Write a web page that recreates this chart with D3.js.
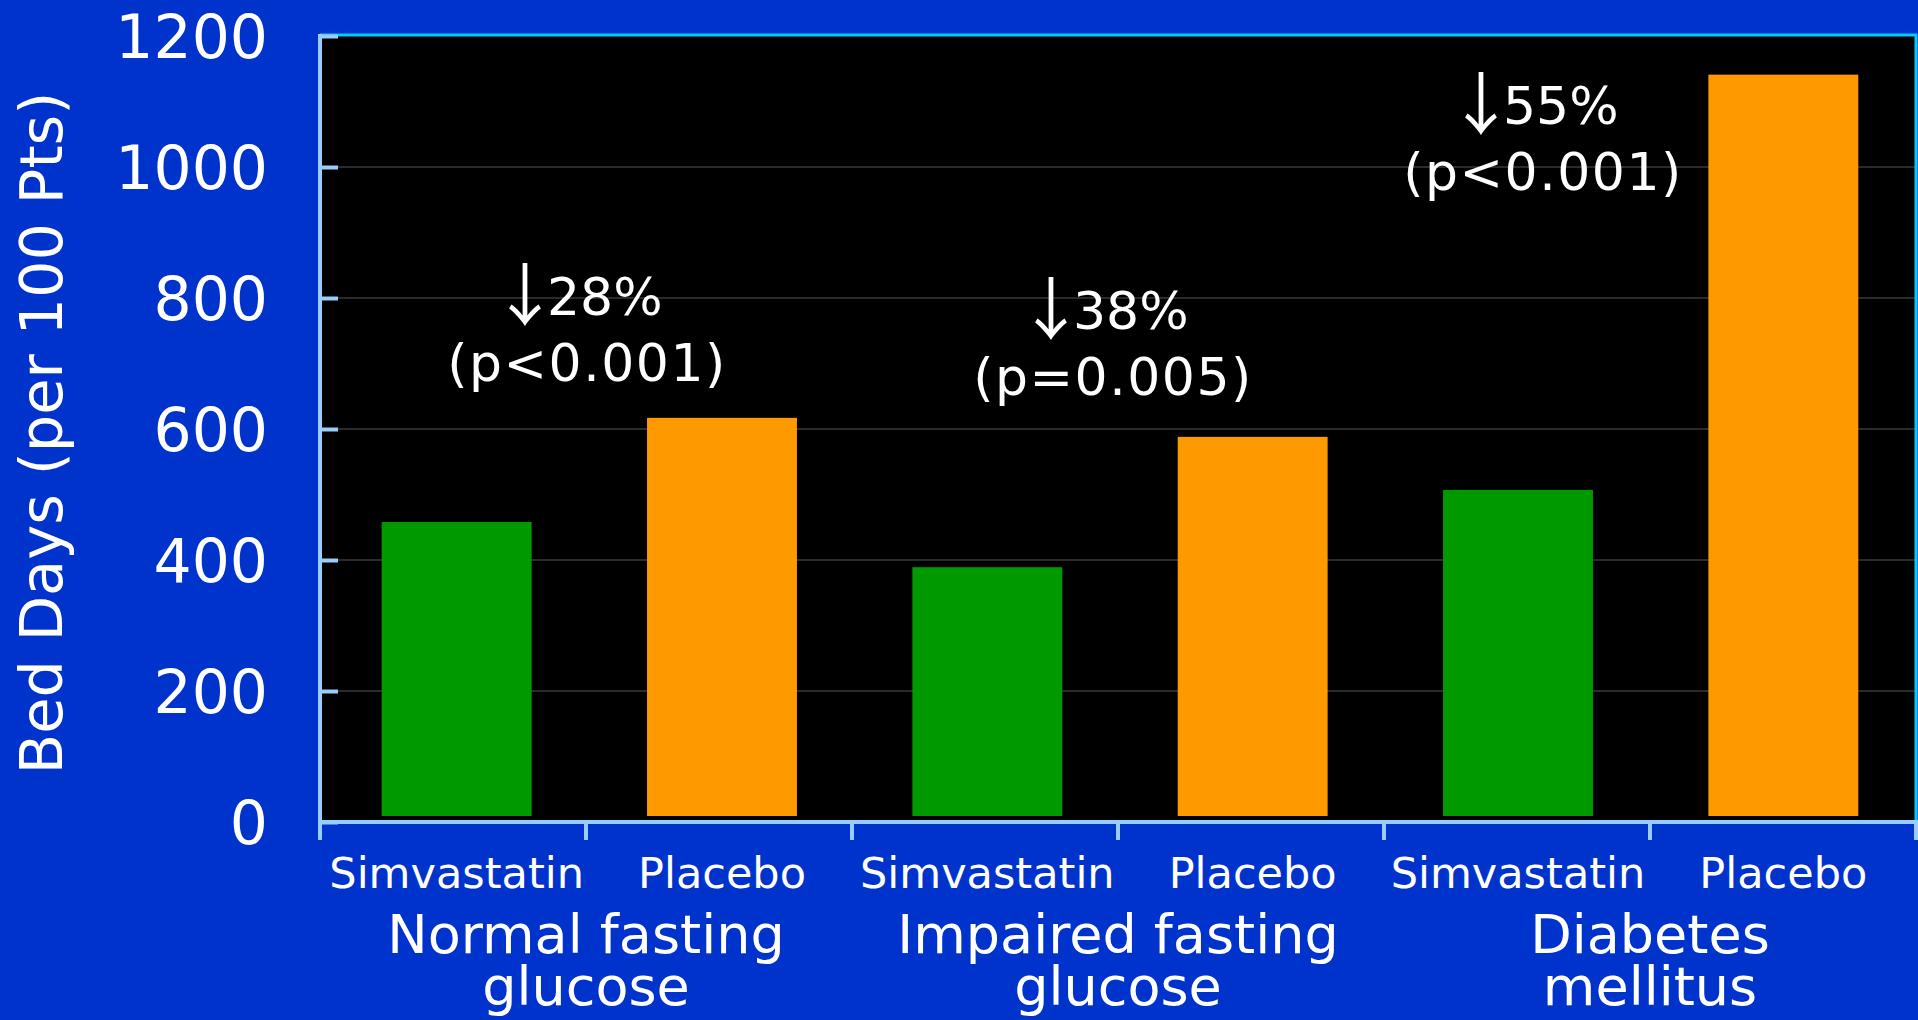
<!DOCTYPE html>
<html>
<head>
<meta charset="utf-8">
<script src="https://cdn.jsdelivr.net/npm/d3@7"></script>
<style>
  html, body { margin: 0; padding: 0; background: #0033CC; overflow: hidden; }
  svg { display: block; }
  text { font-family: "DejaVu Sans", Verdana, sans-serif; fill: #ffffff; }
</style>
</head>
<body>
<svg id="chart" width="1918" height="1020"></svg>
<script>
// ---- data ----
const groups = ["Normal fasting glucose", "Impaired fasting glucose", "Diabetes mellitus"];
const groupLines = [["Normal fasting", "glucose"], ["Impaired fasting", "glucose"], ["Diabetes", "mellitus"]];
const treatments = ["Simvastatin", "Placebo"];
const simvastatin = [458, 389, 507];
const placebo = [617, 588, 1141];
const reductions = ["28%", "38%", "55%"];
const pValues = ["(p<0.001)", "(p=0.005)", "(p<0.001)"];
const yTicks = [0, 200, 400, 600, 800, 1000, 1200];
const yTitle = "Bed Days (per 100 Pts)";

// ---- build bar table ----
const bars = [];
groups.forEach((g, i) => {
  bars.push({ key: g + "|" + treatments[0], group: i, treatment: treatments[0], value: simvastatin[i] });
  bars.push({ key: g + "|" + treatments[1], group: i, treatment: treatments[1], value: placebo[i] });
});

const svg = d3.select("#chart");
const W = 1918, H = 1020;
const plot = { left: 320, right: 1916, top: 35, bottom: 822 };

svg.append("rect").attr("width", W).attr("height", H).attr("fill", "#0033CC");

const x = d3.scaleBand().domain(bars.map(d => d.key))
  .range([plot.left + 4, plot.right]).paddingInner(0.435).paddingOuter(0.2175);
const xTick = d3.scaleBand().domain(bars.map(d => d.key)).range([plot.left, plot.right]);
const y = d3.scaleLinear().domain([0, 1200]).range([plot.bottom, plot.top + 1]);
const color = d3.scaleOrdinal().domain(treatments).range(["#009900", "#FF9900"]);

// plot background
svg.append("rect")
  .attr("x", plot.left).attr("y", plot.top)
  .attr("width", plot.right - plot.left).attr("height", plot.bottom - plot.top)
  .attr("fill", "#000000");

// gridlines
svg.append("g").selectAll("line").data(yTicks.filter(t => t > 0 && t < 1200)).join("line")
  .attr("x1", plot.left).attr("x2", plot.right)
  .attr("y1", d => y(d)).attr("y2", d => y(d))
  .attr("stroke", "#3a3a3a").attr("stroke-width", 1.5);

// top & right border
svg.append("path")
  .attr("d", `M${plot.left},${plot.top}H${plot.right}V${plot.bottom}`)
  .attr("fill", "none").attr("stroke", "#00CCFF").attr("stroke-width", 3);

// bars
svg.append("g").selectAll("rect").data(bars).join("rect")
  .attr("x", d => x(d.key))
  .attr("width", x.bandwidth())
  .attr("y", d => y(d.value))
  .attr("height", d => y(0) - 6 - y(d.value))
  .attr("fill", d => color(d.treatment));

// y axis
const yAxis = d3.axisLeft(y).tickValues(yTicks).tickFormat(d3.format("d"))
  .tickSize(-18).tickPadding(70).tickSizeOuter(0);
const gy = svg.append("g").attr("transform", `translate(${plot.left},0)`).call(yAxis);
gy.select(".domain").attr("stroke", "#99CCFF").attr("stroke-width", 4)
  .attr("d", `M0,${plot.top - 1}V${plot.bottom + 18}`);
gy.selectAll(".tick line").attr("stroke", "#99CCFF").attr("stroke-width", 4);
gy.selectAll(".tick text")
  .attr("x", -52).attr("dy", "0.36em")
  .style("font-size", "60px").style("font-family", '"DejaVu Sans", Verdana, sans-serif')
  .attr("fill", "#ffffff");

// x axis
const boundaries = bars.map(d => xTick(d.key)).concat([plot.right]);
const gx = svg.append("g");
gx.append("line").attr("x1", plot.left - 2).attr("x2", plot.right + 2)
  .attr("y1", plot.bottom).attr("y2", plot.bottom)
  .attr("stroke", "#99CCFF").attr("stroke-width", 4);
gx.selectAll("line.tk").data(boundaries).join("line").attr("class", "tk")
  .attr("x1", d => d).attr("x2", d => d)
  .attr("y1", plot.bottom).attr("y2", plot.bottom + 18)
  .attr("stroke", "#99CCFF").attr("stroke-width", 4);

// treatment labels
svg.append("g").selectAll("text").data(bars).join("text")
  .attr("x", d => x(d.key) + x.bandwidth() / 2)
  .attr("y", 888)
  .attr("text-anchor", "middle")
  .style("font-size", "43px")
  .text(d => d.treatment);

// group labels
const groupCenter = i => xTick(bars[2 * i + 1].key);
groupLines.forEach((lines, i) => {
  const t = svg.append("text")
    .attr("text-anchor", "middle")
    .style("font-size", "54px");
  lines.forEach((ln, j) => {
    t.append("tspan").attr("x", groupCenter(i)).attr("y", 953 + j * 52).text(ln);
  });
});

// y title
svg.append("text")
  .attr("transform", `translate(62,433) rotate(-90)`)
  .attr("text-anchor", "middle")
  .style("font-size", "59px")
  .text(yTitle);

// annotations
const annX = [587, 1113, 1543];
const annY = [315, 329, 124];
reductions.forEach((r, i) => {
  const t = svg.append("text").attr("text-anchor", "start").style("font-size", "52px")
    .attr("x", annX[i] - 96).attr("y", annY[i]);
  t.append("tspan")
    .style("font-family", '"Noto Sans CJK JP", "DejaVu Sans", sans-serif')
    .style("font-size", "68px").attr("dy", 5)
    .text("\u2193");
  t.append("tspan").attr("dx", -12).attr("dy", -5).text(r);
  svg.append("text").attr("text-anchor", "middle").style("font-size", "52px")
    .style("letter-spacing", "1.5px")
    .attr("x", annX[i]).attr("y", annY[i] + 66)
    .text(pValues[i]);
});
</script>
</body>
</html>
